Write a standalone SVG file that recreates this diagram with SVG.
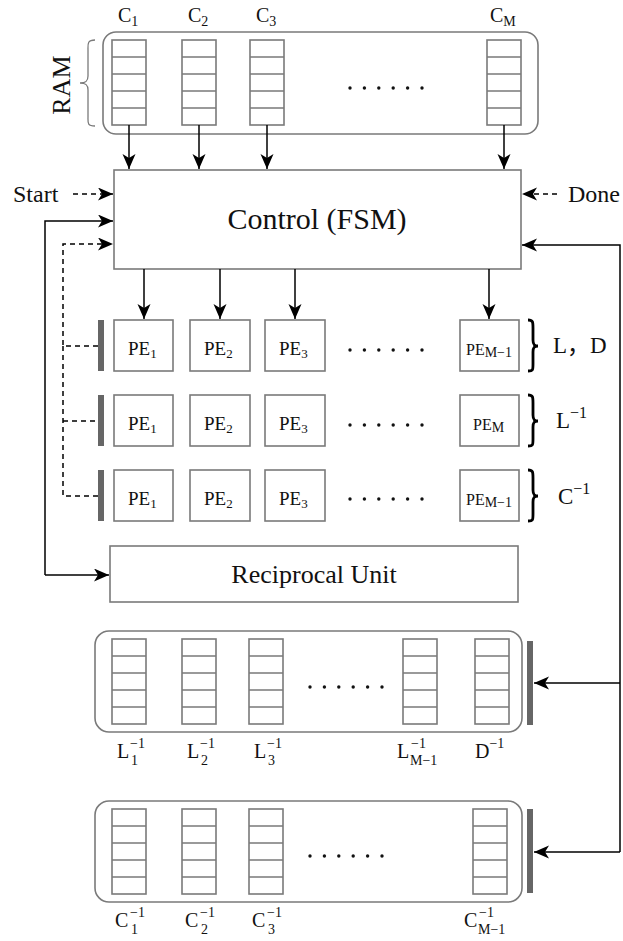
<svg xmlns="http://www.w3.org/2000/svg" xmlns:xlink="http://www.w3.org/1999/xlink" width="623" height="941" viewBox="0 0 623 941">
<style>
text{font-family:"Liberation Serif","Times New Roman","Noto Sans CJK SC",serif;fill:#111}
.box{fill:#fff;stroke:#7a7a7a;stroke-width:1.6}
.cont{fill:none;stroke:#7a7a7a;stroke-width:1.6}
.ln{fill:none;stroke:#000;stroke-width:1.5}
.dash{fill:none;stroke:#000;stroke-width:1.5;stroke-dasharray:5 4}
.bar{fill:#666}
.brace{fill:none;stroke:#000;stroke-width:2.8}
.dot{fill:#111}
</style>
<defs>
<marker id="ah" markerUnits="userSpaceOnUse" markerWidth="16" markerHeight="14" refX="15" refY="6.5" orient="auto">
<path d="M0,0 L15,6.5 L0,13 L4,6.5 Z" fill="#000"/>
</marker>
<g id="col">
<rect x="0" y="0" width="34" height="85" fill="#fff" stroke="#7a7a7a" stroke-width="1.6"/>
<path d="M0,17H34M0,34H34M0,51H34M0,68H34" stroke="#7a7a7a" stroke-width="1.6"/>
</g>
<g id="dots">
<circle cx="0" cy="0" r="1.7"/><circle cx="14.4" cy="0" r="1.7"/><circle cx="28.8" cy="0" r="1.7"/><circle cx="43.2" cy="0" r="1.7"/><circle cx="57.6" cy="0" r="1.7"/><circle cx="72" cy="0" r="1.7"/>
</g>
</defs>

<g id="ram">
<rect class="cont" x="103" y="32" width="435" height="102" rx="13"/>
<use xlink:href="#col" x="112" y="40"/>
<use xlink:href="#col" x="182" y="40"/>
<use xlink:href="#col" x="250" y="40"/>
<use xlink:href="#col" x="487" y="40"/>
<use xlink:href="#dots" x="350" y="88" class="dot"/>
<path d="M95,40 C87,40 88,44 88,50 L88,76 C88,81 86,83 80,83 C86,83 88,85 88,90 L88,117 C88,123 87,126 95,126" fill="none" stroke="#7a7a7a" stroke-width="1.3"/>
<text transform="translate(70,85) rotate(-90)" text-anchor="middle" font-size="26">RAM</text>
<text x="118" y="22" font-size="20">C<tspan font-size="14" dy="4">1</tspan></text>
<text x="188" y="22" font-size="20">C<tspan font-size="14" dy="4">2</tspan></text>
<text x="256" y="22" font-size="20">C<tspan font-size="14" dy="4">3</tspan></text>
<text x="490" y="22" font-size="20">C<tspan font-size="14" dy="4">M</tspan></text>
</g>

<g id="control">
<rect class="box" x="114" y="170" width="407" height="99"/>
<text x="317" y="229" text-anchor="middle" font-size="30">Control (FSM)</text>
</g>
<g id="start"><text x="13" y="202" font-size="24">Start</text></g>
<g id="done"><text x="568" y="202" font-size="24">Done</text></g>

<g id="pe-row1">
<rect class="bar" x="98" y="320" width="6" height="51"/>
<rect class="box" x="114" y="320" width="59" height="51"/>
<rect class="box" x="190" y="320" width="60" height="51"/>
<rect class="box" x="265" y="320" width="60" height="51"/>
<rect class="box" x="460" y="320" width="59" height="51"/>
<text x="128" y="355" font-size="19">PE<tspan font-size="13" dy="3">1</tspan></text>
<text x="204" y="355" font-size="19">PE<tspan font-size="13" dy="3">2</tspan></text>
<text x="279" y="355" font-size="19">PE<tspan font-size="13" dy="3">3</tspan></text>
<text x="466" y="355" font-size="16">PE<tspan font-size="14" dy="2">M−1</tspan></text>
<use xlink:href="#dots" x="350" y="350" class="dot"/>
<path class="brace" d="M528,320 C533,320 533,322 533,328 L533,340 C533,344 534,346 538,346 C534,346 533,348 533,352 L533,364 C533,370 533,371 528,371"/>
<text x="553" y="353" font-size="23">L，D</text>
</g>

<g id="pe-row2">
<rect class="bar" x="98" y="395" width="6" height="51"/>
<rect class="box" x="114" y="395" width="59" height="51"/>
<rect class="box" x="190" y="395" width="60" height="51"/>
<rect class="box" x="265" y="395" width="60" height="51"/>
<rect class="box" x="460" y="395" width="59" height="51"/>
<text x="128" y="430" font-size="19">PE<tspan font-size="13" dy="3">1</tspan></text>
<text x="204" y="430" font-size="19">PE<tspan font-size="13" dy="3">2</tspan></text>
<text x="279" y="430" font-size="19">PE<tspan font-size="13" dy="3">3</tspan></text>
<text x="473" y="430" font-size="16">PE<tspan font-size="14" dy="2">M</tspan></text>
<use xlink:href="#dots" x="350" y="425" class="dot"/>
<path class="brace" d="M528,395 C533,395 533,397 533,403 L533,415 C533,419 534,421 538,421 C534,421 533,423 533,427 L533,439 C533,445 533,446 528,446"/>
<text x="556" y="428" font-size="23">L<tspan font-size="16" dy="-10">−1</tspan></text>
</g>

<g id="pe-row3">
<rect class="bar" x="98" y="470" width="6" height="51"/>
<rect class="box" x="114" y="470" width="59" height="51"/>
<rect class="box" x="190" y="470" width="60" height="51"/>
<rect class="box" x="265" y="470" width="60" height="51"/>
<rect class="box" x="460" y="470" width="59" height="51"/>
<text x="128" y="505" font-size="19">PE<tspan font-size="13" dy="3">1</tspan></text>
<text x="204" y="505" font-size="19">PE<tspan font-size="13" dy="3">2</tspan></text>
<text x="279" y="505" font-size="19">PE<tspan font-size="13" dy="3">3</tspan></text>
<text x="466" y="505" font-size="16">PE<tspan font-size="14" dy="2">M−1</tspan></text>
<use xlink:href="#dots" x="350" y="499" class="dot"/>
<path class="brace" d="M528,470 C533,470 533,472 533,478 L533,490 C533,494 534,496 538,496 C534,496 533,498 533,502 L533,514 C533,520 533,521 528,521"/>
<text x="558" y="504" font-size="23">C<tspan font-size="16" dy="-10">−1</tspan></text>
</g>

<g id="reciprocal">
<rect class="box" x="110" y="546" width="408" height="56"/>
<text x="314" y="583" text-anchor="middle" font-size="26">Reciprocal Unit</text>
</g>

<g id="linv-store">
<rect class="cont" x="95" y="631" width="427" height="101" rx="14"/>
<use xlink:href="#col" x="112" y="639"/>
<use xlink:href="#col" x="182" y="639"/>
<use xlink:href="#col" x="249" y="639"/>
<use xlink:href="#col" x="403" y="639"/>
<use xlink:href="#col" x="475" y="639"/>
<use xlink:href="#dots" x="310" y="687" class="dot"/>
<rect class="bar" x="527" y="641" width="6" height="84"/>
<text x="117" y="758" font-size="20">L<tspan x="130" dy="-10" font-size="14">−1</tspan><tspan x="131" dy="17" font-size="14">1</tspan></text>
<text x="187" y="758" font-size="20">L<tspan x="200" dy="-10" font-size="14">−1</tspan><tspan x="201" dy="17" font-size="14">2</tspan></text>
<text x="254" y="758" font-size="20">L<tspan x="267" dy="-10" font-size="14">−1</tspan><tspan x="268" dy="17" font-size="14">3</tspan></text>
<text x="397" y="758" font-size="20">L<tspan x="411" dy="-10" font-size="14">−1</tspan><tspan x="410" dy="17" font-size="14">M−1</tspan></text>
<text x="475" y="758" font-size="20">D<tspan font-size="14" dy="-10">−1</tspan></text>
</g>

<g id="cinv-store">
<rect class="cont" x="95" y="801" width="427" height="101" rx="14"/>
<use xlink:href="#col" x="112" y="809"/>
<use xlink:href="#col" x="182" y="809"/>
<use xlink:href="#col" x="249" y="809"/>
<use xlink:href="#col" x="473" y="809"/>
<use xlink:href="#dots" x="310" y="856" class="dot"/>
<rect class="bar" x="527" y="809" width="6" height="84"/>
<text x="115" y="927" font-size="20">C<tspan x="130" dy="-10" font-size="14">−1</tspan><tspan x="131" dy="17" font-size="14">1</tspan></text>
<text x="185" y="927" font-size="20">C<tspan x="200" dy="-10" font-size="14">−1</tspan><tspan x="201" dy="17" font-size="14">2</tspan></text>
<text x="252" y="927" font-size="20">C<tspan x="267" dy="-10" font-size="14">−1</tspan><tspan x="268" dy="17" font-size="14">3</tspan></text>
<text x="464" y="927" font-size="20">C<tspan x="479" dy="-10" font-size="14">−1</tspan><tspan x="478" dy="17" font-size="14">M−1</tspan></text>
</g>

<g id="connectors">
<path class="ln" d="M129,125V169" marker-end="url(#ah)"/>
<path class="ln" d="M199,125V169" marker-end="url(#ah)"/>
<path class="ln" d="M267,125V169" marker-end="url(#ah)"/>
<path class="ln" d="M504,125V169" marker-end="url(#ah)"/>
<path class="ln" d="M144,269V319" marker-end="url(#ah)"/>
<path class="ln" d="M220,269V319" marker-end="url(#ah)"/>
<path class="ln" d="M295,269V319" marker-end="url(#ah)"/>
<path class="ln" d="M489,269V319" marker-end="url(#ah)"/>
<path class="dash" d="M73,194H113" marker-end="url(#ah)"/>
<path class="dash" d="M557,194H522" marker-end="url(#ah)"/>
<path class="ln" d="M45,575V221H113" marker-end="url(#ah)"/>
<path class="ln" d="M45,575H109" marker-end="url(#ah)"/>
<path class="dash" d="M98,346H63V244H113" marker-end="url(#ah)"/>
<path class="dash" d="M63,346V496H98"/>
<path class="dash" d="M63,421H98"/>
<path class="ln" d="M620,852V245H522" marker-end="url(#ah)"/>
<path class="ln" d="M620,683H534" marker-end="url(#ah)"/>
<path class="ln" d="M620,852H534" marker-end="url(#ah)"/>
</g>
</svg>
